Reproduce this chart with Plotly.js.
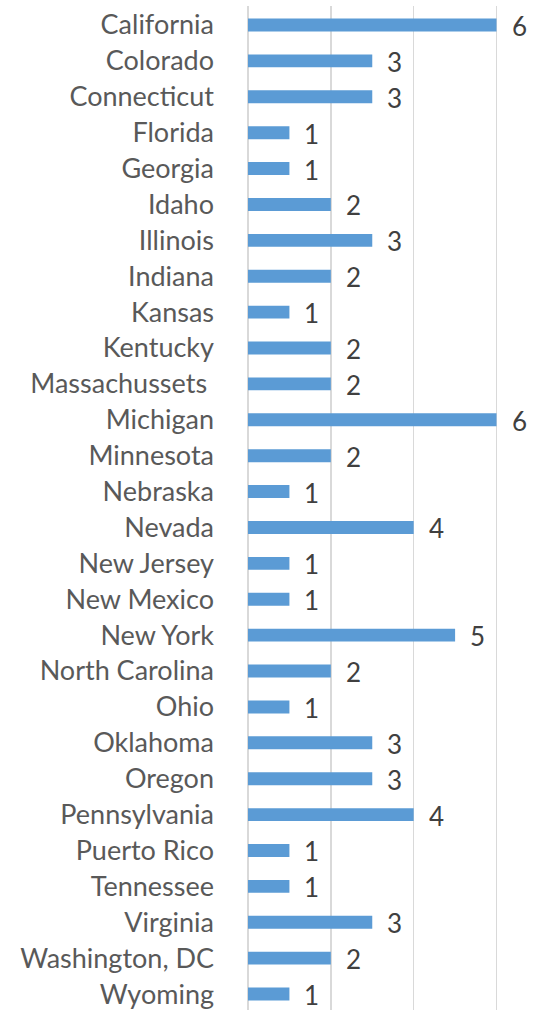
<!DOCTYPE html>
<html>
<head>
<meta charset="utf-8">
<script src="https://cdn.plot.ly/plotly-3.0.1.min.js"></script>
<style>
  html, body { margin: 0; padding: 0; background: #fff; }
  #chart { width: 539px; height: 1012px; }
</style>
</head>
<body>
<div id="chart"></div>
<script>
// states, top to bottom
const states = [
    'California', 'Colorado', 'Connecticut', 'Florida', 'Georgia', 'Idaho',
    'Illinois', 'Indiana', 'Kansas', 'Kentucky', 'Massachussets ', 'Michigan',
    'Minnesota', 'Nebraska', 'Nevada', 'New Jersey', 'New Mexico', 'New York',
    'North Carolina', 'Ohio', 'Oklahoma', 'Oregon', 'Pennsylvania', 'Puerto Rico',
    'Tennessee', 'Virginia', 'Washington, DC', 'Wyoming'
];
const counts = [
    6, 3, 3, 1, 1, 2,
    3, 2, 1, 2, 2, 6,
    2, 1, 4, 1, 1, 5,
    2, 1, 3, 3, 4, 1,
    1, 3, 2, 1
];

const FONT = 'Lato, "Open Sans", sans-serif';

const trace = {
    type: 'bar',
    orientation: 'h',
    x: counts,
    y: states,
    marker: { color: '#5b9bd5' },
    hoverinfo: 'skip'
};

// value labels sit a little to the right of each bar end
const labels = states.map((s, i) => ({
    x: counts[i],
    y: s,
    text: String(counts[i]),
    showarrow: false,
    xanchor: 'left',
    yanchor: 'middle',
    xshift: 13,
    yshift: -1,
    font: { family: FONT, size: 26, color: '#404040' }
}));

const layout = {
    width: 539,
    height: 1012,
    margin: { l: 248, r: 40, t: 6, b: 0 },
    paper_bgcolor: '#ffffff',
    plot_bgcolor: '#ffffff',
    bargap: 0.64,
    showlegend: false,
    xaxis: {
        range: [0, 6.06],
        dtick: 2,
        showticklabels: false,
        showgrid: true,
        gridcolor: '#d9d9d9',
        gridwidth: 1.5,
        zeroline: true,
        zerolinecolor: '#d9d9d9',
        zerolinewidth: 1.5,
        fixedrange: true
    },
    yaxis: {
        autorange: 'reversed',
        type: 'category',
        showgrid: false,
        zeroline: false,
        ticks: '',
        ticklabelstandoff: 33,
        tickfont: { family: FONT, size: 27, color: '#595959' },
        fixedrange: true
    },
    annotations: labels
};

Plotly.newPlot('chart', [trace], layout, { displayModeBar: false, staticPlot: true });
</script>
</body>
</html>
